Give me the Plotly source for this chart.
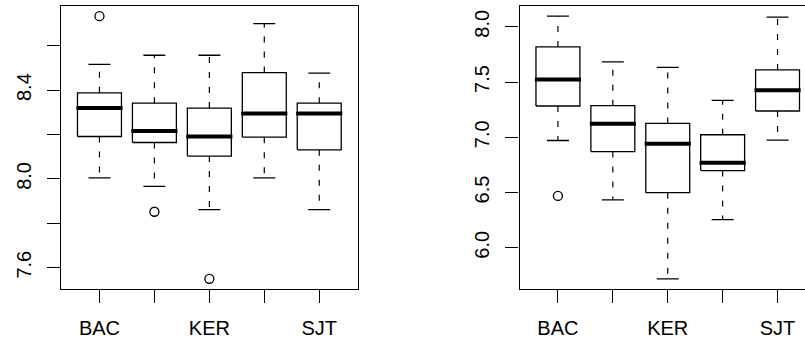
import plotly.graph_objects as go

# Site groups (only every other label fits under the axis)
positions = [1, 2, 3, 4, 5]
site_labels = ["BAC", "", "KER", "", "SJT"]

# Panel 1 box statistics
p1_low = [8.005, 7.966, 7.862, 8.005, 7.862]
p1_q1 = [8.191, 8.164, 8.103, 8.188, 8.131]
p1_med = [8.319, 8.216, 8.191, 8.295, 8.295]
p1_q3 = [8.388, 8.341, 8.319, 8.479, 8.341]
p1_high = [8.516, 8.557, 8.557, 8.700, 8.477]
p1_out_x = [1, 2, 3]
p1_out_y = [8.733, 7.852, 7.550]
p1_ticks = [7.6, 7.8, 8.0, 8.2, 8.4, 8.6]
p1_ticktext = ["7.6", "", "8.0", "", "8.4", ""]

# Panel 2 box statistics
p2_low = [6.971, 6.433, 5.719, 6.254, 6.975]
p2_q1 = [7.283, 6.871, 6.499, 6.699, 7.238]
p2_med = [7.522, 7.123, 6.941, 6.769, 7.425]
p2_q3 = [7.818, 7.286, 7.125, 7.023, 7.610]
p2_high = [8.096, 7.682, 7.633, 7.334, 8.087]
p2_out_x = [1]
p2_out_y = [6.469]
p2_ticks = [6.0, 6.5, 7.0, 7.5, 8.0]
p2_ticktext = ["6.0", "6.5", "7.0", "7.5", "8.0"]

BOX_HALF = 0.4
CAP_HALF = 0.2
FONT = "Liberation Sans, Arial, Helvetica, sans-serif"

fig = go.Figure()


def add_boxes(xref, yref, low, q1, med, q3, high, out_x, out_y):
    bx, by, mx, my, cx, cy = [], [], [], [], [], []
    for p, lo, a, m, b, hi in zip(positions, low, q1, med, q3, high):
        bx += [p - BOX_HALF, p + BOX_HALF, p + BOX_HALF, p - BOX_HALF, p - BOX_HALF, None]
        by += [a, a, b, b, a, None]
        mx += [p - BOX_HALF - 0.02, p + BOX_HALF + 0.02, None]
        my += [m, m, None]
        cx += [p - CAP_HALF, p + CAP_HALF, None, p - CAP_HALF, p + CAP_HALF, None]
        cy += [lo, lo, None, hi, hi, None]
        # dashed whiskers, each drawn outward from the box
        for y0, y1 in ((a, lo), (b, hi)):
            fig.add_trace(go.Scatter(x=[p, p], y=[y0, y1], xaxis=xref, yaxis=yref,
                                     mode="lines", hoverinfo="skip",
                                     line=dict(color="black", width=1.2, dash="6px,9px")))
    fig.add_trace(go.Scatter(x=cx, y=cy, xaxis=xref, yaxis=yref, mode="lines",
                             hoverinfo="skip", line=dict(color="black", width=1.3)))
    fig.add_trace(go.Scatter(x=bx, y=by, xaxis=xref, yaxis=yref, mode="lines",
                             hoverinfo="skip", line=dict(color="black", width=1.3)))
    fig.add_trace(go.Scatter(x=mx, y=my, xaxis=xref, yaxis=yref, mode="lines",
                             hoverinfo="skip", line=dict(color="black", width=4)))
    fig.add_trace(go.Scatter(x=out_x, y=out_y, xaxis=xref, yaxis=yref, mode="markers",
                             hoverinfo="skip",
                             marker=dict(symbol="circle-open", size=9, color="black",
                                         line=dict(width=1.3, color="black"))))


def padded(values):
    lo, hi = min(values), max(values)
    ext = 0.04 * (hi - lo)
    return [lo - ext, hi + ext]


add_boxes("x", "y", p1_low, p1_q1, p1_med, p1_q3, p1_high, p1_out_x, p1_out_y)
add_boxes("x2", "y2", p2_low, p2_q1, p2_med, p2_q3, p2_high, p2_out_x, p2_out_y)

p1_range = padded(p1_low + p1_high + p1_out_y)
p2_range = padded(p2_low + p2_high + p2_out_y)

W, H = 805, 343
top_frac = 1 - 5.7 / H
bot_frac = 1 - 289.3 / H

xcommon = dict(tickmode="array", tickvals=positions, ticktext=site_labels,
               ticks="outside", ticklen=13, tickwidth=1.2, tickcolor="black",
               showgrid=False, zeroline=False, showline=True, linecolor="black",
               linewidth=1.2, mirror=True, fixedrange=True,
               tickfont=dict(family=FONT, size=20, color="black"), ticklabelstandoff=8)
ycommon = dict(ticks="outside", ticklen=13, tickwidth=1.2, tickcolor="black",
               showgrid=False, zeroline=False, showline=True, linecolor="black",
               linewidth=1.2, tickangle=-90, fixedrange=True,
               tickfont=dict(family=FONT, size=20, color="black"), ticklabelstandoff=8)

fig.update_layout(
    width=W, height=H,
    margin=dict(l=0, r=0, t=0, b=0),
    paper_bgcolor="white", plot_bgcolor="white",
    showlegend=False,
    xaxis=dict(domain=[61 / W, 357.7 / W], range=[0.3, 5.7], anchor="y", **xcommon),
    yaxis=dict(domain=[bot_frac, top_frac], range=p1_range, anchor="x",
               tickmode="array", tickvals=p1_ticks, ticktext=p1_ticktext,
               mirror=True, **ycommon),
    xaxis2=dict(domain=[519.5 / W, 1.0], range=[0.3, 5.5], anchor="y2", **xcommon),
    yaxis2=dict(domain=[bot_frac, top_frac], range=p2_range, anchor="x2",
                tickmode="array", tickvals=p2_ticks, ticktext=p2_ticktext,
                mirror=False, **ycommon),
)

fig.write_html("out.html", config={"displayModeBar": False})
